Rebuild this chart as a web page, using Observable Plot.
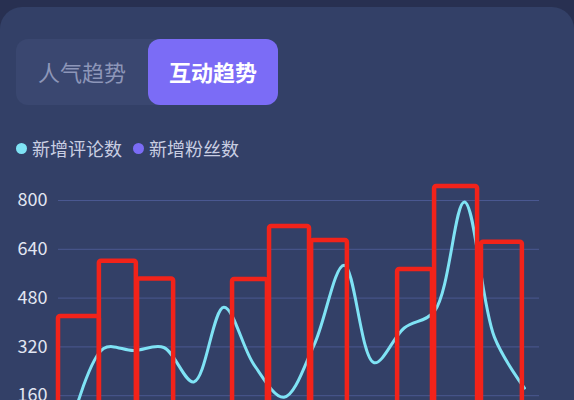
<!DOCTYPE html>
<html><head><meta charset="utf-8">
<script src="https://cdn.jsdelivr.net/npm/d3@7"></script>
<script src="https://cdn.jsdelivr.net/npm/@observablehq/plot@0.6"></script>
<style>
html,body{margin:0;padding:0;background:#283051;width:574px;height:400px;overflow:hidden;font-family:"Noto Sans CJK SC","Noto Sans",sans-serif;}
.card{position:absolute;left:0;top:7px;width:574px;height:700px;background:#334067;border-radius:22px 22px 0 0;}
.toggle{position:absolute;left:16px;top:39px;width:262px;height:66px;background:#3a4770;border-radius:12px;}
.btn{position:absolute;top:0;height:66px;line-height:64px;text-align:center;font-size:22px;}
.btn.off{left:0;width:132px;color:#8d96b8;}
.btn.on{left:132px;width:130px;background:#7b6cf6;color:#fff;font-weight:bold;border-radius:12px;}
.legend{position:absolute;left:16px;top:135px;display:flex;align-items:center;font-size:18px;color:#c9cee2;}
.legend .item{display:flex;align-items:center;margin-right:11px;}
.legend .dot{width:11px;height:11px;border-radius:50%;margin-right:5px;}
#chart{position:absolute;left:0;top:170px;}
</style></head>
<body>
<div class="card"></div>
<div class="toggle"><div class="btn off" id="b0"></div><div class="btn on" id="b1"></div></div>
<div class="legend" id="legend"></div>
<div id="chart"></div>
<script>
const tabs = ["人气趋势", "互动趋势"];
const seriesNames = ["新增评论数", "新增粉丝数"];
const seriesColors = ["#7fe3f5", "#7b6cf6"];
const categories = ["1","2","3","4","5","6","7","8","9","10","11","12","13","14","15","16"];
const comments = [90, 315, 308, 318, 205, 450, 262, 155, 326, 588, 268, 382, 436, 795, 352, 185];
const yTicks = [0, 160, 320, 480, 640, 800];
// red highlight boxes: left edge, right edge (in category-slot units), top value
const boxLeft  = [0.00, 1.36, 2.63, 5.79, 7.02, 8.42, 11.28, 12.51, 14.07];
const boxRight = [1.36, 2.59, 3.83, 6.95, 8.35, 9.61, 12.44, 13.94, 15.43];
const boxTop   = [420, 601, 543, 541, 715, 669, 574, 846, 663];

document.getElementById("b0").textContent = tabs[0];
document.getElementById("b1").textContent = tabs[1];
const lg = document.getElementById("legend");
seriesNames.forEach((n, i) => {
  const it = document.createElement("div"); it.className = "item";
  const d = document.createElement("div"); d.className = "dot"; d.style.background = seriesColors[i];
  const t = document.createElement("span"); t.textContent = n;
  it.appendChild(d); it.appendChild(t); lg.appendChild(it);
});

const lineData = categories.map((c, i) => ({c, x: i + 0.5, v: comments[i]}));
const boxes = boxLeft.map((l, i) => ({x1: l, x2: boxRight[i], top: boxTop[i]}));

const chart = Plot.plot({
  width: 574, height: 310,
  marginLeft: 58, marginRight: 35, marginTop: 30, marginBottom: 36,
  style: {background: "transparent", fontSize: "18px", fontFamily: "'Noto Sans CJK SC', sans-serif", color: "#e2e6f2", overflow: "visible"},
  x: {domain: [0, categories.length], axis: null},
  y: {domain: [0, 800], ticks: yTicks, label: null},
  marks: [
    Plot.ruleY(yTicks, {stroke: "#4a5891", strokeWidth: 1}),
    Plot.axisY({ticks: yTicks, tickSize: 0, tickPadding: 11, label: null, fill: "#e2e6f2"}),
    Plot.line(lineData, {x: "x", y: "v", curve: "catmull-rom", stroke: seriesColors[0], strokeWidth: 3}),
    Plot.rectY(boxes, {x1: "x1", x2: "x2", y1: 0, y2: "top", fill: "none", stroke: "#f2231a", strokeWidth: 4.5, rx: 2})
  ]
});
document.getElementById("chart").appendChild(chart);
</script>
</body></html>
